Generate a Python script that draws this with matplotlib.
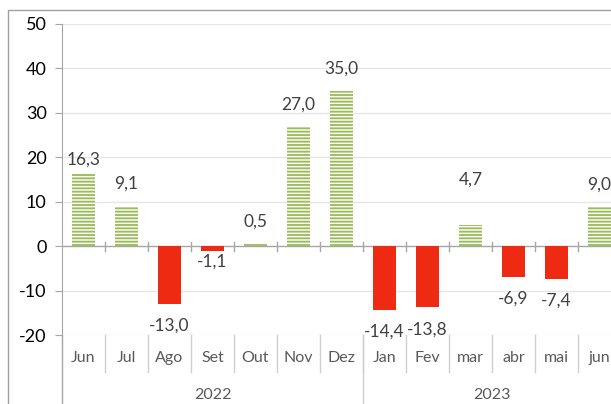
import matplotlib.pyplot as plt
from matplotlib.patches import Rectangle

# Data
MONTHS = ['Jun', 'Jul', 'Ago', 'Set', 'Out', 'Nov', 'Dez',
          'Jan', 'Fev', 'mar', 'abr', 'mai', 'jun']
VALUES = [16.3, 9.1, -13.0, -1.1, 0.5, 27.0, 35.0,
          -14.4, -13.8, 4.7, -6.9, -7.4, 9.0]
YEARS = ['2022', '2023']
YEAR_COUNTS = [7, 6]
Y_TICKS = [-20, -10, 0, 10, 20, 30, 40, 50]

# Colors
GREEN = '#9bbb59'
RED = '#ee2a12'
GRID = '#e6e6e6'
AXIS = '#a6a6a6'
TEXT = '#404040'

plt.rcParams['font.family'] = ['Lato', 'DejaVu Sans']
plt.rcParams['hatch.linewidth'] = 1.35

fig = plt.figure(figsize=(6.11, 4.04), dpi=100)
W, H = 611, 404
# axes in pixels: x 62..621, y 24 (50) .. 335 (-20)
ax = fig.add_axes([62 / W, (H - 335) / H, (621 - 62) / W, (335 - 24) / H])

x = list(range(len(MONTHS)))
for xi, v in zip(x, VALUES):
    if v >= 0:
        ax.bar(xi, v, width=0.55, color='white', edgecolor=GREEN,
               linewidth=0, hatch='-----', zorder=3)
    else:
        ax.bar(xi, v, width=0.55, color=RED, linewidth=0, zorder=3)

# value labels (pixel gap from the bar end, a few nudged like the original)
label_gap = {0: 14, 3: 11, 9: 46}
for xi, v in zip(x, VALUES):
    gap = label_gap.get(xi, 22)
    ax.annotate(f'{v:.1f}'.replace('.', ','), (xi, v),
                xytext=(0, gap if v >= 0 else -gap), textcoords='offset pixels',
                ha='center', va='center', fontsize=12.5, color=TEXT, zorder=4)

ax.set_xlim(-0.5, len(MONTHS) - 0.5)
ax.set_ylim(-20, 50)
ax.set_yticks(Y_TICKS)
ax.set_yticklabels([str(t) for t in Y_TICKS])
ax.tick_params(axis='y', direction='out', length=5, color=AXIS, labelsize=13,
               labelcolor='black', pad=6)
ax.set_xticks([])
for t in Y_TICKS:
    if t != 0:
        ax.axhline(t, color=GRID, lw=1, zorder=1)
ax.axhline(0, color=AXIS, lw=1, zorder=2)

for s in ['top', 'right', 'bottom']:
    ax.spines[s].set_visible(False)
ax.spines['left'].set_color(AXIS)

# y axis line continues down through the category area
ax.plot([0, 0], [0, -0.3], transform=ax.transAxes, color=AXIS, lw=1, clip_on=False)

# multi-level category axis
trans = ax.get_xaxis_transform()
for i in range(len(MONTHS)):
    ax.text(i, -0.074, MONTHS[i], transform=trans, ha='center', va='center',
            fontsize=11.5, color='#595959')
    if i > 0:
        ax.plot([i - 0.5, i - 0.5], [0, -0.119], transform=trans, color='#d0d0d0',
                lw=1, clip_on=False)
        # small tick marks on the zero line
        ax.plot([i - 0.5, i - 0.5], [-1, 1], color=AXIS, lw=1, zorder=2)

start = -0.5
for year, n in zip(YEARS, YEAR_COUNTS):
    ax.text(start + n / 2, -0.193, year, transform=trans, ha='center', va='center',
            fontsize=11.5, color='#595959')
    start += n
    ax.plot([start, start], [0, -0.3], transform=trans, color='#d0d0d0',
            lw=1, clip_on=False)

# outer chart border
fig.add_artist(Rectangle((8 / W, -0.1), 1.2, (H - 10) / H + 0.1,
                         transform=fig.transFigure, fill=False,
                         edgecolor='#a0a0a0', lw=1))

plt.savefig('out.png', dpi=100)
